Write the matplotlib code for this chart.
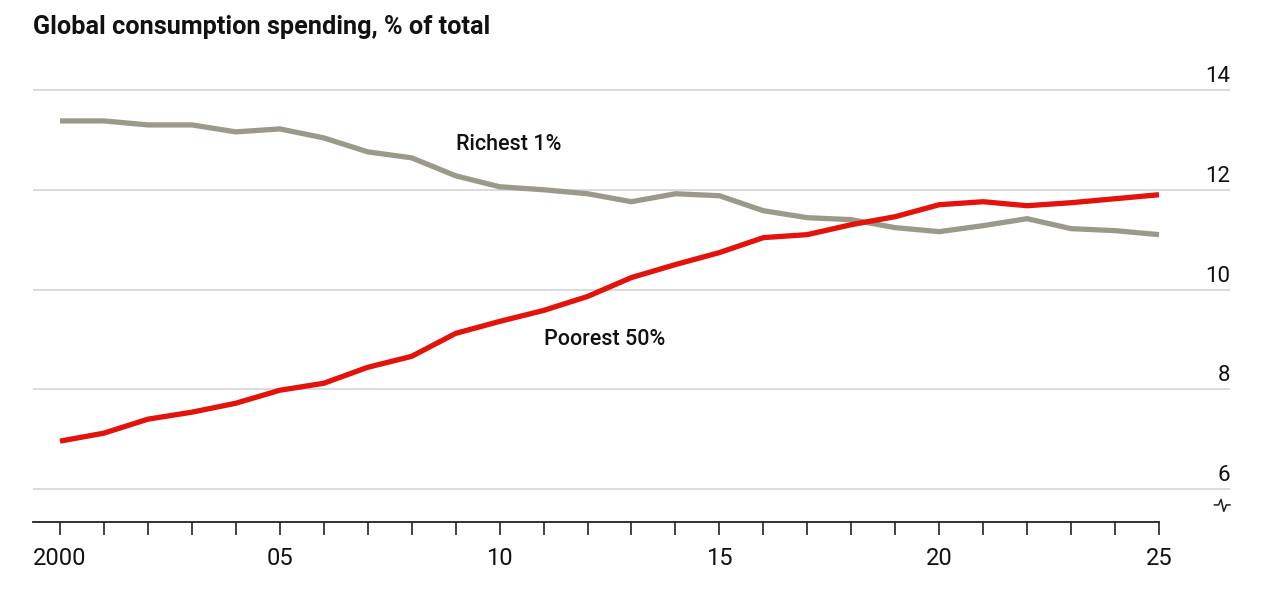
import matplotlib
matplotlib.use("Agg")
import matplotlib.pyplot as plt

years = list(range(2000, 2026))
richest_1 = [13.38, 13.38, 13.30, 13.30, 13.16, 13.22, 13.04, 12.76, 12.64, 12.28,
             12.06, 12.00, 11.92, 11.76, 11.92, 11.88, 11.58, 11.44, 11.40, 11.24,
             11.16, 11.28, 11.42, 11.22, 11.18, 11.10]
poorest_50 = [6.96, 7.12, 7.40, 7.54, 7.72, 7.98, 8.12, 8.44, 8.66, 9.12,
              9.36, 9.58, 9.86, 10.24, 10.50, 10.74, 11.04, 11.10, 11.30, 11.46,
              11.70, 11.76, 11.68, 11.74, 11.82, 11.90]
y_ticks = [6, 8, 10, 12, 14]
x_ticks = [2000, 2005, 2010, 2015, 2020, 2025]
x_labels = ["2000", "05", "10", "15", "20", "25"]

plt.rcParams['font.family'] = ['Roboto', 'DejaVu Sans']

fig = plt.figure(figsize=(12.8, 5.92), dpi=100)
ax = fig.add_axes([33 / 1280, 1 - 522 / 592, (1230 - 33) / 1280, (522 - 60) / 592])

px_year = (1159 - 60) / 25
px_unit = (489 - 90) / 8
ax.set_xlim(2000 - 27 / px_year, 2025 + 71 / px_year)
ax.set_ylim(6 - 33 / px_unit, 14 + 30 / px_unit)

for v in y_ticks:
    ax.axhline(v, color='#d4d4d4', lw=1.2, zorder=1)
    ax.annotate(str(v), xy=(1, v), xycoords=('axes fraction', 'data'),
                xytext=(0, 2), textcoords='offset points',
                ha='right', va='bottom', fontsize=16, color='#111111')

ax.plot(years, richest_1, color='#9b9a8a', lw=3.8, zorder=2, solid_capstyle='butt')
ax.plot(years, poorest_50, color='#e3120b', lw=3.8, zorder=3, solid_capstyle='butt')

ax.text(2009.0, 12.90, "Richest 1%", fontsize=15.5, fontweight='medium',
        color='#111111', va='center')
ax.text(2011.0, 9.00, "Poorest 50%", fontsize=15.5, fontweight='medium',
        color='#111111', va='center')

for s in ['top', 'right', 'left']:
    ax.spines[s].set_visible(False)
ax.spines['bottom'].set_bounds(ax.get_xlim()[0], 2025)
ax.spines['bottom'].set_linewidth(1.3)
ax.spines['bottom'].set_color('#222222')

ax.set_yticks([])
ax.set_xticks(years, minor=True)
ax.set_xticks(x_ticks)
ax.set_xticklabels(x_labels, fontsize=17, color='#111111')
ax.tick_params(axis='x', which='both', direction='out', length=9, width=1.2,
               color='#222222', pad=9)

# axis break mark
bx = [0.987, 0.9905, 0.9925, 0.9948, 0.997, 1.0]
by = [0.0, 0.0, 0.012, -0.014, 0.0, 0.0]
ax.plot(bx, [0.037 + b for b in by], transform=ax.transAxes, color='#222222',
        lw=1.1, clip_on=False)

fig.text(33 / 1280, 1 - 27 / 592, "Global consumption spending, % of total",
         fontsize=18.2, fontweight='bold', ha='left', va='center', color='#111111')

fig.savefig("out.png", dpi=100, facecolor='white')
